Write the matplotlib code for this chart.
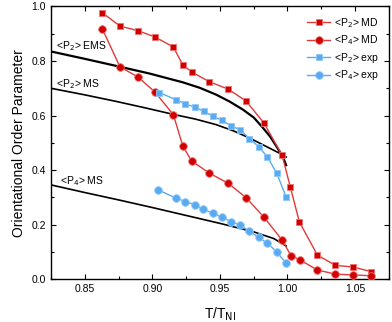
import matplotlib.pyplot as plt
from matplotlib.ticker import MultipleLocator

plt.rcParams['font.family'] = ['Liberation Sans', 'DejaVu Sans']

# <P2> MD (red squares)
p2_md_t = [0.863, 0.876, 0.8895, 0.902, 0.9156, 0.9225, 0.9294, 0.9422, 0.9561, 0.9694,
           0.9827, 0.996, 1.002, 1.0088, 1.0221, 1.0354, 1.0487, 1.062]
p2_md = [0.977, 0.928, 0.911, 0.888, 0.851, 0.786, 0.759, 0.724, 0.697, 0.653,
         0.572, 0.455, 0.340, 0.210, 0.089, 0.051, 0.045, 0.028]

# <P4> MD (red spheres)
p4_md_t = [0.863, 0.876, 0.8895, 0.902, 0.9156, 0.9225, 0.929, 0.9422, 0.9561, 0.9694,
           0.9827, 0.996, 1.0026, 1.0093, 1.0221, 1.0354, 1.0487, 1.062]
p4_md = [0.918, 0.779, 0.741, 0.686, 0.603, 0.489, 0.434, 0.389, 0.352, 0.299,
         0.227, 0.144, 0.087, 0.071, 0.034, 0.019, 0.016, 0.013]

# <P2> exp (blue squares)
p2_exp_t = [0.9053, 0.9176, 0.9245, 0.9314, 0.9383, 0.9452, 0.9516, 0.9585, 0.9649,
            0.9718, 0.9787, 0.9852, 0.992, 0.9989]
p2_exp = [0.684, 0.658, 0.643, 0.631, 0.615, 0.597, 0.582, 0.562, 0.548,
          0.516, 0.486, 0.448, 0.389, 0.303]

# <P4> exp (blue spheres)
p4_exp_t = [0.9043, 0.9176, 0.9245, 0.9314, 0.9378, 0.9447, 0.9516, 0.9585, 0.9649,
            0.9718, 0.9787, 0.9852, 0.992, 0.9989]
p4_exp = [0.328, 0.297, 0.285, 0.273, 0.257, 0.242, 0.227, 0.211, 0.199,
          0.176, 0.154, 0.132, 0.101, 0.059]

# theory curves (black)
ems_t = [0.825, 0.85, 0.876, 0.898, 0.9225, 0.935, 0.9471, 0.957, 0.967, 0.975,
         0.9817, 0.987, 0.9916, 0.9965, 0.999]
ems_p2 = [0.835, 0.808, 0.779, 0.754, 0.722, 0.702, 0.677, 0.652, 0.622, 0.593,
          0.556, 0.524, 0.489, 0.450, 0.418]

ms_t = [0.825, 0.85, 0.8732, 0.895, 0.915, 0.932, 0.9471, 0.96, 0.9718, 0.9866, 0.9965, 0.999]
ms_p2 = [0.700, 0.676, 0.652, 0.628, 0.605, 0.587, 0.567, 0.544, 0.518, 0.481, 0.456, 0.448]

ms4_t = [0.825, 0.85, 0.875, 0.90, 0.925, 0.95, 0.975, 0.99, 0.999]
ms_p4 = [0.346, 0.318, 0.291, 0.263, 0.234, 0.205, 0.174, 0.149, 0.122]

red = '#d00000'
red_line = '#e03a3a'
blue = '#5aaaf0'

fig = plt.figure(figsize=(3.92, 3.22), dpi=100)
ax = fig.add_axes([0.130, 0.1326, 0.862, 0.8474])

ax.plot(ems_t, ems_p2, color='black', lw=1.6, zorder=2)
ax.plot(ms_t, ms_p2, color='black', lw=1.2, zorder=2)
ax.plot(ms4_t, ms_p4, color='black', lw=1.2, zorder=2)

ax.plot(p2_md_t, p2_md, '-s', color=red_line, mfc=red, mec='#f07070', mew=0.6, ms=5, lw=1, label='<P$_2$> MD', zorder=3)
ax.plot(p4_md_t, p4_md, '-o', color=red_line, mfc=red, mec='#f07070', mew=0.6, ms=5.5, lw=1, label='<P$_4$> MD', zorder=3)
ax.plot(p2_exp_t, p2_exp, '-s', color=blue, mfc=blue, mec='#8cc8ff', mew=0.6, ms=5, lw=1, label='<P$_2$> exp', zorder=3)
ax.plot(p4_exp_t, p4_exp, '-o', color=blue, mfc=blue, mec='#8cc8ff', mew=0.6, ms=5.5, lw=1, label='<P$_4$> exp', zorder=3)

ax.text(0.829, 0.856, '<P$_2$> EMS', fontsize=7.5, va='center')
ax.text(0.829, 0.715, '<P$_2$> MS', fontsize=7.5, va='center')
ax.text(0.832, 0.359, '<P$_4$> MS', fontsize=7.5, va='center')

ax.set_xlim(0.825, 1.075)
ax.set_ylim(0, 1.0)
ax.xaxis.set_major_locator(MultipleLocator(0.05))
ax.xaxis.set_minor_locator(MultipleLocator(0.025))
ax.yaxis.set_major_locator(MultipleLocator(0.2))
ax.yaxis.set_minor_locator(MultipleLocator(0.1))
ax.tick_params(which='both', direction='in', top=True, right=True, labelsize=7.5)
ax.tick_params(which='major', length=3.5, width=0.8)
ax.tick_params(which='minor', length=2, width=0.8)
for s in ax.spines.values():
    s.set_linewidth(1.0)

ax.set_xlabel('T/T$_{\\mathrm{NI}}$', fontsize=10, labelpad=8)
ax.set_ylabel('Orientational Order Parameter', fontsize=10, labelpad=4)

ax.legend(loc='upper right', frameon=False, fontsize=7.5, handlelength=2.2,
          handletextpad=0.4, labelspacing=0.35, borderaxespad=0.5)

fig.savefig('out.png', dpi=100)
